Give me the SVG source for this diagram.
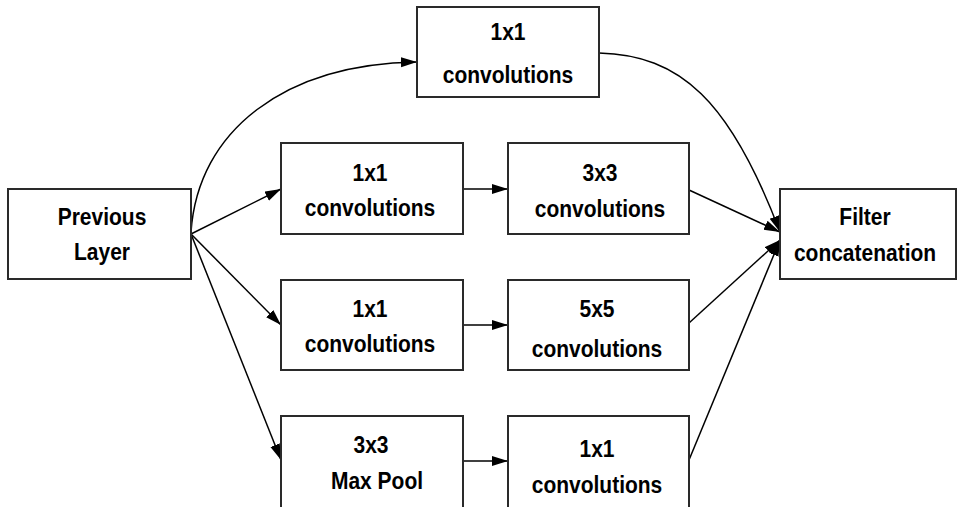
<svg xmlns="http://www.w3.org/2000/svg" width="959" height="507" viewBox="0 0 959 507">
  <style>
    .box { fill: #ffffff; stroke: #2a2a2a; stroke-width: 2; }
    .lbl { font-family: "Liberation Sans", Arial, Helvetica, sans-serif; font-weight: bold; font-size: 21px; fill: #000000; text-anchor: middle; }
    .edge { fill: none; stroke: #000000; stroke-width: 1.5; marker-end: url(#arrow); }
  </style>
  <defs>
    <marker id="arrow" markerUnits="userSpaceOnUse" markerWidth="16" markerHeight="11" refX="16" refY="5" orient="auto">
      <path d="M0,0 L16,5 L0,10 z" fill="#000000"/>
    </marker>
  </defs>
  <rect width="959" height="507" fill="#ffffff"/>

  <!-- connectors -->
  <g id="edges">
    <path class="edge" d="M191,232 C198,130 285,64 417,62"/>
    <path class="edge" d="M191,234 L281,189"/>
    <path class="edge" d="M191,234 L281,325"/>
    <path class="edge" d="M191,234 L281,460"/>
    <path class="edge" d="M463,189 L508,189"/>
    <path class="edge" d="M463,325 L508,325"/>
    <path class="edge" d="M463,461 L508,461"/>
    <path class="edge" d="M599,53 C680,55 730,100 780,232"/>
    <path class="edge" d="M689,190 L780,232"/>
    <path class="edge" d="M689,323 L780,240"/>
    <path class="edge" d="M689,460 L780,240"/>
  </g>

  <!-- nodes: labels are drawn slightly tall (scale 1 x 1.15) -->
  <g id="previous-layer">
    <rect class="box" x="8" y="189" width="183" height="90"/>
    <text class="lbl" transform="translate(102,225) scale(1,1.15)">Previous</text>
    <text class="lbl" transform="translate(102,260) scale(1,1.15)">Layer</text>
  </g>

  <g id="conv1x1-top">
    <rect class="box" x="417" y="7" width="182" height="90"/>
    <text class="lbl" transform="translate(508,40) scale(1,1.15)">1x1</text>
    <text class="lbl" transform="translate(508,83) scale(1,1.15)">convolutions</text>
  </g>

  <g id="conv1x1-a">
    <rect class="box" x="281" y="143" width="182" height="91"/>
    <text class="lbl" transform="translate(370,181) scale(1,1.15)">1x1</text>
    <text class="lbl" transform="translate(370,216) scale(1,1.15)">convolutions</text>
  </g>

  <g id="conv3x3">
    <rect class="box" x="508" y="143" width="181" height="91"/>
    <text class="lbl" transform="translate(600,181) scale(1,1.15)">3x3</text>
    <text class="lbl" transform="translate(600,217) scale(1,1.15)">convolutions</text>
  </g>

  <g id="conv1x1-b">
    <rect class="box" x="281" y="280" width="182" height="90"/>
    <text class="lbl" transform="translate(370,317) scale(1,1.15)">1x1</text>
    <text class="lbl" transform="translate(370,352) scale(1,1.15)">convolutions</text>
  </g>

  <g id="conv5x5">
    <rect class="box" x="508" y="280" width="181" height="90"/>
    <text class="lbl" transform="translate(597,317) scale(1,1.15)">5x5</text>
    <text class="lbl" transform="translate(597,357) scale(1,1.15)">convolutions</text>
  </g>

  <g id="maxpool3x3">
    <rect class="box" x="281" y="416" width="182" height="94"/>
    <text class="lbl" transform="translate(371,453) scale(1,1.15)">3x3</text>
    <text class="lbl" transform="translate(377,489) scale(1,1.15)">Max Pool</text>
  </g>

  <g id="conv1x1-c">
    <rect class="box" x="508" y="416" width="181" height="94"/>
    <text class="lbl" transform="translate(597,457) scale(1,1.15)">1x1</text>
    <text class="lbl" transform="translate(597,493) scale(1,1.15)">convolutions</text>
  </g>

  <g id="filter-concat">
    <rect class="box" x="780" y="189" width="176" height="90"/>
    <text class="lbl" transform="translate(865,225) scale(1,1.15)">Filter</text>
    <text class="lbl" transform="translate(865,261) scale(1,1.15)">concatenation</text>
  </g>
</svg>
